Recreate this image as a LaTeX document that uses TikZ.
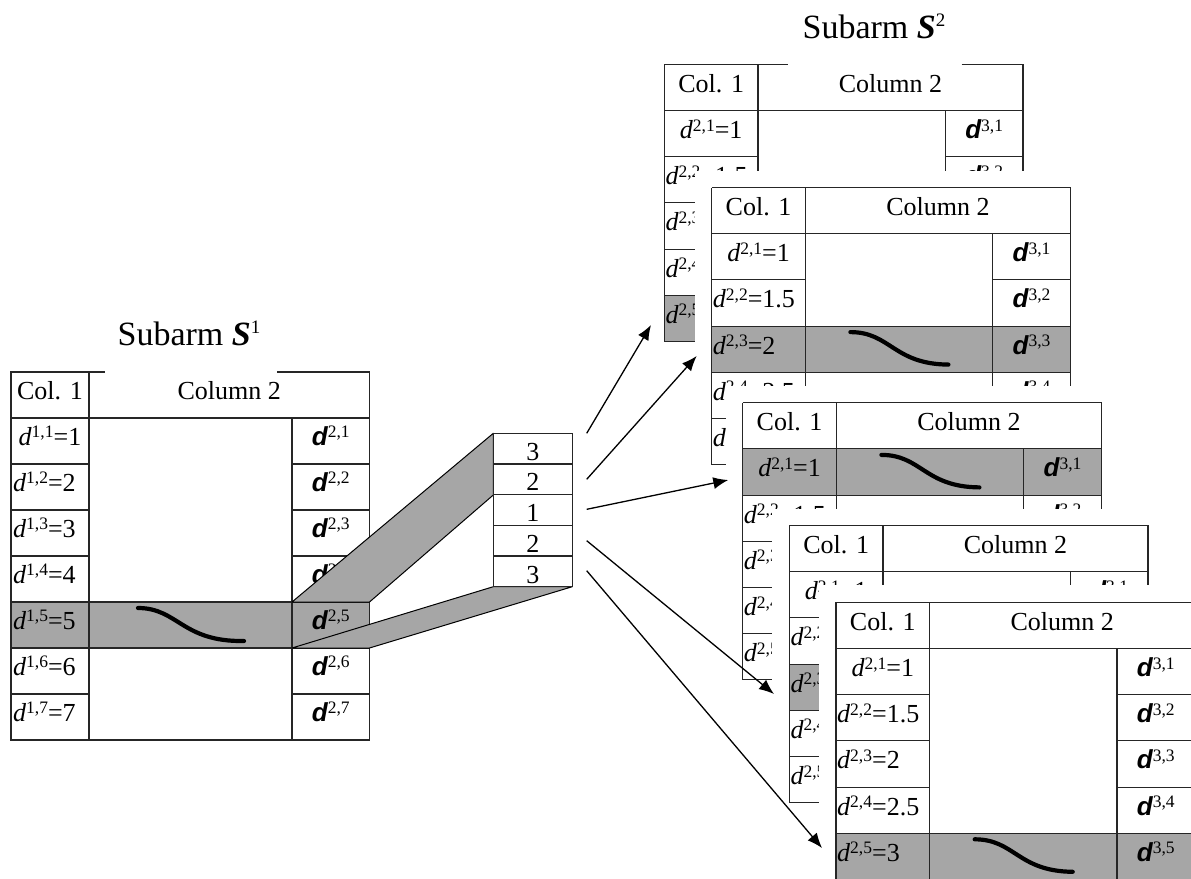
\documentclass[tikz,border=0pt]{standalone}
\usepackage{fontspec}
\setmainfont{Liberation Serif}
\newfontfamily\dsf{Liberation Sans}
\usetikzlibrary{arrows.meta}
\definecolor{cellgray}{RGB}{166,166,166}
\newcommand\spx[1]{\raisebox{7.5pt}{\fontsize{17.5}{17.5}\selectfont #1}}
\newcommand\dl[2]{{\itshape d}\spx{#1}=#2}
\newcommand\dr[1]{{\dsf\fontsize{26}{26}\selectfont\bfseries\itshape d}\spx{#1}}
\tikzset{
 tline/.style={line width=1.1pt, black!85},
 txt/.style={inner sep=0pt, font=\fontsize{26}{30}\selectfont},
 ctxt/.style={txt, anchor=base},
 ltxt/.style={txt, anchor=base west},
 squig/.style={line width=4.2pt, line cap=round},
 band/.style={fill=cellgray, draw=black, line width=1pt, line join=round},
 arr/.style={line width=1.3pt, -{Latex[length=15pt,width=12pt]}},
 ttl/.style={inner sep=0pt, anchor=base, font=\fontsize{34}{40}\selectfont},
}
% right-hand table: #1 prefix, #2 x, #3 y, #4 gray row, #5 gap start, #6 gap end
\newcommand\rtab[6]{%
\begin{scope}[shift={(#2,#3)}]
 \fill[white] (-17,-17) rectangle (375.7,294.2);
 \fill[cellgray] (0,{46.2*#4}) rectangle (358.7,{46.2*(#4+1)});
 \draw[tline] (#6,0) -- (358.7,0) -- (358.7,277.2) -- (0,277.2) -- (0,0) -- (#5,0);
 \draw[tline] (0,46.2) -- (358.7,46.2);
 \draw[tline] (93.7,0) -- (93.7,277.2);
 \draw[tline] (281,46.2) -- (281,277.2);
 \foreach \i in {2,...,5}{\draw[tline] (0,{46.2*\i}) -- (93.7,{46.2*\i}) (281,{46.2*\i}) -- (358.7,{46.2*\i});}
 \draw[tline] (93.7,{46.2*#4}) -- (281,{46.2*#4}) (93.7,{46.2*(#4+1)}) -- (281,{46.2*(#4+1)});
 \draw[squig] (138.7,{46.2*#4+6}) .. controls (178.7,{46.2*#4+6}) and (181.7,{46.2*#4+38}) .. (236.7,{46.2*#4+38.5});
 \node[ctxt] (#1h1) at (46.85,28) {Col. 1};
 \node[ctxt] (#1h2) at (226.2,28) {Column 2};
 \node[ctxt] (#1l1) at (46.85,{46.2+28}) {\dl{2,1}{1}};
 \foreach \i/\v in {2/1.5,3/2,4/2.5,5/3}{\node[ltxt] (#1l\i) at (1,{46.2*\i+28}) {\dl{2,\i}{\v}};}
 \foreach \i in {1,...,5}{\node[ctxt] (#1r\i) at (319.85,{46.2*\i+28}) {\dr{3,\i}};}
\end{scope}}
\begin{document}
\begin{tikzpicture}[x=1pt,y=-1pt]
\useasboundingbox (0,0) rectangle (1191,878);
\fill[white] (0,0) rectangle (1191,878);
% ---- Subarm S1 table
\begin{scope}[shift={(11,372)}]
 \fill[cellgray] (0,230) rectangle (358.5,276);
 \draw[tline] (266,0) -- (358.5,0) -- (358.5,368) -- (0,368) -- (0,0) -- (94,0);
 \draw[tline] (0,46) -- (358.5,46);
 \draw[tline] (78,0) -- (78,368);
 \draw[tline] (281,46) -- (281,368);
 \foreach \i in {2,...,7}{\draw[tline] (0,{46*\i}) -- (78,{46*\i}) (281,{46*\i}) -- (358.5,{46*\i});}
 \draw[tline] (78,230) -- (281,230) (78,276) -- (281,276);
 \draw[squig] (127,236) .. controls (167,236) and (171,270) .. (233,269);
 \node[ctxt] (sh1) at (39,27) {Col. 1};
 \node[ctxt] (sh2) at (218.25,27) {Column 2};
 \node[ctxt] (sl1) at (39,{46+27}) {\dl{1,1}{1}};
 \foreach \i in {2,...,7}{\node[ltxt] (sl\i) at (2,{46*\i+27}) {\dl{1,\i}{\i}};}
 \foreach \i in {1,...,7}{\node[ctxt] (sr\i) at (319.75,{46*\i+27}) {\dr{2,\i}};}
\end{scope}
\node[ttl] (title1) at (189,345) {Subarm \textbf{\textit{S}}\raisebox{12pt}{\fontsize{19}{19}\selectfont 1}};
% ---- bands
\draw[band] (292,602) -- (493.3,433.3) -- (493.3,495) -- (369.5,602) -- cycle;
\draw[band] (292,648) -- (493.3,586.7) -- (572.3,586.7) -- (369.5,648) -- cycle;
% ---- stack
\begin{scope}[shift={(493.3,433.3)}]
 \fill[white] (0,0) rectangle (79,153.4);
 \draw[tline] (0,0) rectangle (79,153.4);
 \foreach \i in {1,...,4}{\draw[tline] (0,{30.68*\i}) -- (79,{30.68*\i});}
 \foreach \i/\v in {1/3,2/2,3/1,4/2,5/3}{\node[ctxt] (st\i) at (39.5,{30.68*(\i-1)+27}) {\v};}
\end{scope}
% ---- right tables
\rtab{A}{664.3}{64.3}{5}{123.7}{297.4}
\rtab{B}{711.7}{187.5}{3}{0}{0}
\rtab{C}{742.7}{402.7}{1}{0}{0}
\rtab{D}{789.3}{525.5}{3}{0}{0}
\rtab{E}{836}{602.3}{5}{0}{0}
\node[ttl] (title2) at (874,38.3) {Subarm \textbf{\textit{S}}\raisebox{12pt}{\fontsize{19}{19}\selectfont 2}};
% ---- arrows
\coordinate (s1) at (586.7,433.3);
\coordinate (s2) at (586.7,479.3);
\coordinate (s3) at (586.7,509.3);
\coordinate (s4) at (586.7,540.7);
\coordinate (s5) at (586.7,570.7);
\coordinate (e1) at (651,325);
\coordinate (e2) at (696.7,356);
\coordinate (e3) at (728.3,480);
\coordinate (e4) at (774,694);
\coordinate (e5) at (822,848);
\foreach \k in {1,...,5}{\draw[arr] (s\k) -- (e\k);}
\end{tikzpicture}
\end{document}
